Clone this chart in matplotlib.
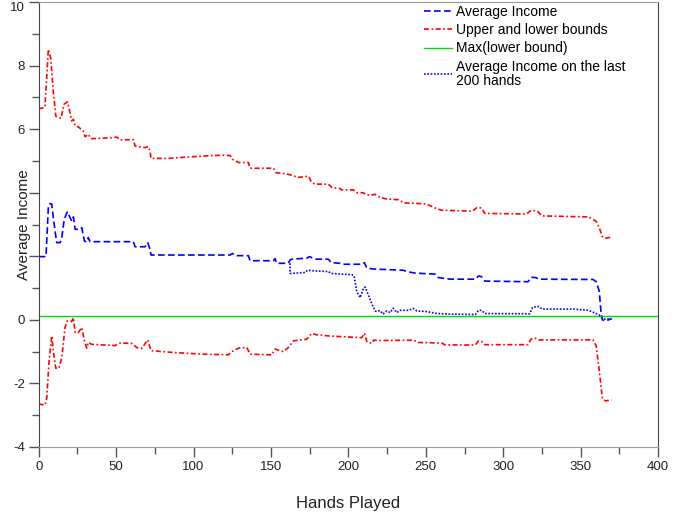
import matplotlib
matplotlib.use("Agg")
import matplotlib.pyplot as plt
from matplotlib.ticker import MultipleLocator

plt.rcParams['font.family'] = ['Liberation Sans', 'DejaVu Sans']

# Average income (blue dashed)
avg_x = [0, 4.7, 6.2, 7.3, 8.4, 9.4, 11, 11.6, 13.8, 14.9, 16.5, 18.5, 20.2, 21.3, 22.4,
         23.5, 26.7, 27.8, 29.5, 31, 32, 33.1, 61.1, 62.2, 68.7, 70.4, 71.9, 72.5, 123.6,
         125.1, 126.8, 135.4, 136.5, 151.6, 152.6, 153.7, 161.2, 162.3, 163.4, 173.1, 174.8,
         178.5, 187.1, 188.8, 194.6, 196.8, 208.7, 210.3, 211.9, 216.1, 235.5, 237.7, 243.1,
         256, 258.1, 265.7, 282, 284, 286, 288, 316, 318, 321, 323, 358, 360, 362, 363,
         364, 366, 370]
avg_y = [1.99, 1.99, 3.53, 3.66, 3.64, 3.22, 2.64, 2.43, 2.43, 2.59, 3.17, 3.40, 3.22, 3.11, 3.24,
         2.85, 2.85, 2.90, 2.48, 2.45, 2.59, 2.46, 2.46, 2.30, 2.30, 2.43, 2.22, 2.04, 2.04,
         2.09, 2.02, 2.02, 1.86, 1.86, 1.93, 1.78, 1.78, 1.88, 1.91, 1.94, 1.99,
         1.91, 1.91, 1.80, 1.78, 1.75, 1.75, 1.80, 1.63, 1.60, 1.56, 1.52, 1.47,
         1.44, 1.33, 1.28, 1.28, 1.38, 1.36, 1.22, 1.20, 1.34, 1.33, 1.28, 1.27, 1.20, 0.90, 0.30,
         0.00, -0.04, 0.04]

# Upper bound (red)
up_x = [0, 4, 6.2, 7.7, 9.4, 11, 14.4, 16.3, 18.5, 20.2, 21.3, 22.4, 23.5, 25.6, 28.8, 29.9,
        32, 33.8, 47.2, 50.4, 52.5, 61.1, 62.2, 68.7, 70.8, 71.9, 72.5, 83.7, 92.4, 108.5,
        119.3, 123.6, 125.1, 129, 135.4, 136.5, 151.6, 153.3, 159.1, 164.5, 166.7, 170.9,
        174.2, 176.3, 178.5, 187.1, 189.3, 194.2, 195.7, 203.2, 205.4, 209.7, 210.8, 214,
        217.2, 220.5, 225, 232, 236, 250, 256, 260, 280, 283, 286, 288, 315, 318, 322, 325,
        355, 360, 362, 364, 366, 370]
up_y = [6.64, 6.68, 8.51, 8.25, 7.2, 6.41, 6.34, 6.78, 6.86, 6.52, 6.26, 6.31, 6.1, 6.07, 5.94, 5.76,
        5.84, 5.70, 5.73, 5.75, 5.66, 5.67, 5.47, 5.42, 5.45, 5.31, 5.08, 5.08, 5.11, 5.16,
        5.18, 5.17, 5.05, 4.95, 4.95, 4.77, 4.77, 4.63, 4.60, 4.54, 4.48, 4.50,
        4.52, 4.32, 4.27, 4.27, 4.16, 4.14, 4.09, 4.09, 4.00, 4.00, 3.95, 3.92,
        3.95, 3.85, 3.80, 3.78, 3.68, 3.65, 3.52, 3.45, 3.42, 3.53, 3.52, 3.35, 3.33, 3.45, 3.42, 3.27,
        3.24, 3.10, 2.90, 2.62, 2.57, 2.60]

# Lower bound (red)
low_x = [0, 4.1, 5.2, 6.7, 8.4, 9.4, 11, 13.1, 14.9, 17, 18.5, 21.3, 22.4, 23.5, 25.6, 27.8,
         29.5, 31, 32, 34.2, 49.3, 52.5, 60.1, 63.3, 66.5, 70.4, 72.5, 88, 106.3, 122.5,
         124.7, 129, 134.4, 136.5, 150.5, 152.6, 158, 161.2, 164.5, 173.1, 176.3, 179.6,
         188.2, 208.6, 210.3, 211.9, 215.1, 216.2, 220.5, 242, 245.2, 260.3, 262.5, 282,
         284, 286, 288, 316, 318, 321, 323, 358, 360, 362, 364, 366, 370]
low_y = [-2.65, -2.68, -2.44, -1.29, -0.50, -0.97, -1.52, -1.52, -1.18, -0.24, -0.03, -0.05, 0.07, -0.40, -0.40, -0.24,
         -0.66, -0.89, -0.71, -0.77, -0.81, -0.73, -0.74, -0.87, -0.90, -0.63, -0.97, -1.03, -1.08, -1.10,
         -1.00, -0.89, -0.87, -1.08, -1.10, -0.92, -1.00, -0.87, -0.66, -0.61, -0.43, -0.47,
         -0.51, -0.56, -0.42, -0.69, -0.74, -0.64, -0.65, -0.64, -0.71, -0.73, -0.79, -0.79,
         -0.66, -0.68, -0.78, -0.78, -0.60, -0.58, -0.63, -0.63, -0.82, -1.60, -2.48, -2.55, -2.52]

# Average income on the last 200 hands (blue dotted)
last_x = [162.3, 162.3, 172, 173.5, 178.5, 187.1, 188.8, 202.2, 203.7, 205.4, 207.6, 209.7,
          210.8, 212.9, 215.1, 217.5, 220.5, 222.2, 224.8, 226.9, 229, 231.3, 233.4, 238.8,
          242, 244.2, 250.6, 257.1, 265.7, 282, 284, 286, 288, 317, 319, 323, 325, 345, 355,
          360, 362, 364, 366, 370]
last_y = [1.78, 1.46, 1.49, 1.56, 1.54, 1.52, 1.46, 1.42, 1.38, 0.88, 0.70, 1.00,
          1.03, 0.78, 0.50, 0.27, 0.29, 0.18, 0.28, 0.23, 0.37, 0.23, 0.30, 0.30,
          0.36, 0.28, 0.26, 0.20, 0.18, 0.17, 0.30, 0.30, 0.20, 0.19, 0.40, 0.42, 0.34, 0.34, 0.30,
          0.20, 0.15, 0.05, 0.02, 0.04]

max_lower = 0.12

y_ticks = [-4, -2, 0, 2, 4, 6, 8, 10]
y_tick_labels = ['-4', '-2', '0', '', '', '6', '8', '10']

fig = plt.figure(figsize=(6.94, 5.17), dpi=100)
ax = fig.add_axes([0.0558, 0.1354, 0.8925, 0.8607])

red_dash = (0, (3, 1.5, 1, 1.5))
ax.plot(avg_x, avg_y, color='#0000ff', linestyle=(0, (4, 2)), linewidth=1.2, label='Average Income')
ax.plot(up_x, up_y, color='#ff0000', linestyle=red_dash, linewidth=1.2, label='Upper and lower bounds')
ax.plot(low_x, low_y, color='#ff0000', linestyle=red_dash, linewidth=1.2)
ax.axhline(max_lower, color='#00dd00', linewidth=1.0, label='Max(lower bound)')
ax.plot(last_x, last_y, color='#0000ff', linestyle=(0, (1, 1)), linewidth=1.2,
        label='Average Income on the last\n200 hands')

ax.set_xlim(0, 400)
ax.set_ylim(-4, 10)
ax.xaxis.set_major_locator(MultipleLocator(50))
ax.xaxis.set_minor_locator(MultipleLocator(25))
ax.yaxis.set_minor_locator(MultipleLocator(1))
ax.set_yticks(y_ticks)
ax.set_yticklabels(y_tick_labels)
# top label kept inside the figure, as in the original
ax.yaxis.get_major_ticks()[-1].label1.set_verticalalignment('top')

ax.tick_params(which='major', direction='out', length=7, width=1, colors='#555555',
               labelsize=9.5, labelcolor='#222222', pad=3)
ax.tick_params(which='minor', direction='out', length=5, width=1, colors='#555555')

for side in ['left', 'right']:
    ax.spines[side].set_color('#444444')
for side in ['top', 'bottom']:
    ax.spines[side].set_color('#999999')

ax.set_xlabel('Hands Played', fontsize=12, labelpad=17, color='#222222')
ax.set_ylabel('Average Income', fontsize=11, color='#222222', va='center')
ax.yaxis.set_label_coords(-0.023, 0.5)

leg = ax.legend(loc='upper left', bbox_to_anchor=(0.622, 0.993), frameon=False, fontsize=10,
                handlelength=2.0, handletextpad=0.3, labelspacing=0.3, borderpad=0, borderaxespad=0)
for t in leg.get_texts():
    t.set_linespacing(1.0)

fig.savefig('out.png', dpi=100)
